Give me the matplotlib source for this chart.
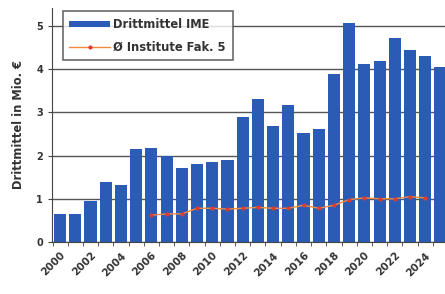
import matplotlib.pyplot as plt
import numpy as np

years = list(range(2000, 2026))
drittmittel = [0.65, 0.65, 0.95, 1.38, 1.32, 2.15, 2.17, 2.0, 1.72, 1.8, 1.85, 1.9,
               2.9, 3.3, 2.68, 3.18, 2.52, 2.62, 3.88, 5.07, 4.12, 4.2, 4.72, 4.45,
               4.3, 4.05]
inst_years = list(range(2006, 2025))
inst_avg = [0.62, 0.65, 0.65, 0.78, 0.78, 0.76, 0.78, 0.8, 0.78, 0.78, 0.85, 0.78,
            0.85, 0.98, 1.02, 1.0, 1.0, 1.05, 1.02]
tick_years = list(range(2000, 2025, 2))

fig = plt.figure(figsize=(4.45, 2.94), dpi=100)
ax = fig.add_axes([0.117, 0.177, 0.883, 0.796])

x = np.array(years) - 2000
bars = ax.bar(x, drittmittel, width=0.8, color='#2a5cb5', zorder=2)
line, = ax.plot(np.array(inst_years) - 2000, inst_avg, color='#f08a40', lw=1,
                marker='o', ms=2, mfc='#e03a30', mec='#e03a30', zorder=3)

ax.set_xlim(-0.53, 25.3)
ax.set_ylim(0, 5.42)
ax.set_yticks(range(0, 6))
ax.yaxis.grid(True, color='#555555', lw=1, zorder=1)
ax.set_axisbelow(True)
ax.set_xticks(np.array(tick_years) - 2000)
ax.set_xticklabels([str(y) for y in tick_years], rotation=45, ha='right',
                   rotation_mode='anchor', fontsize=7.5, fontweight='bold',
                   color='#333333')
ax.set_xticks(np.arange(-0.5, 25.5, 1), minor=True)
ax.tick_params(axis='x', which='major', length=0, pad=6)
ax.tick_params(axis='x', which='minor', length=3, color='#444444')
ax.tick_params(axis='y', length=3, labelsize=7, color='#444444',
               labelcolor='#333333')
for lbl in ax.get_yticklabels():
    lbl.set_fontweight('bold')
ax.set_ylabel('Drittmittel in Mio. €', fontsize=8.3, fontweight='bold',
              color='#333333', labelpad=8)

for side in ['top', 'right']:
    ax.spines[side].set_visible(False)
ax.spines['left'].set_color('#444444')
ax.spines['bottom'].set_color('#444444')

leg = ax.legend([bars, line], ['Drittmittel IME', 'Ø Institute Fak. 5'],
                loc='upper left', bbox_to_anchor=(0.012, 1.01),
                frameon=True, fancybox=False, edgecolor='#444444',
                handlelength=3.5, handleheight=0.5, borderpad=0.6,
                labelspacing=0.8, handletextpad=0.3,
                prop={'weight': 'bold', 'size': 8.3})
leg.get_frame().set_linewidth(1.2)
for t in leg.get_texts():
    t.set_color('#333333')

plt.savefig('out.png', dpi=100)
plt.close()
